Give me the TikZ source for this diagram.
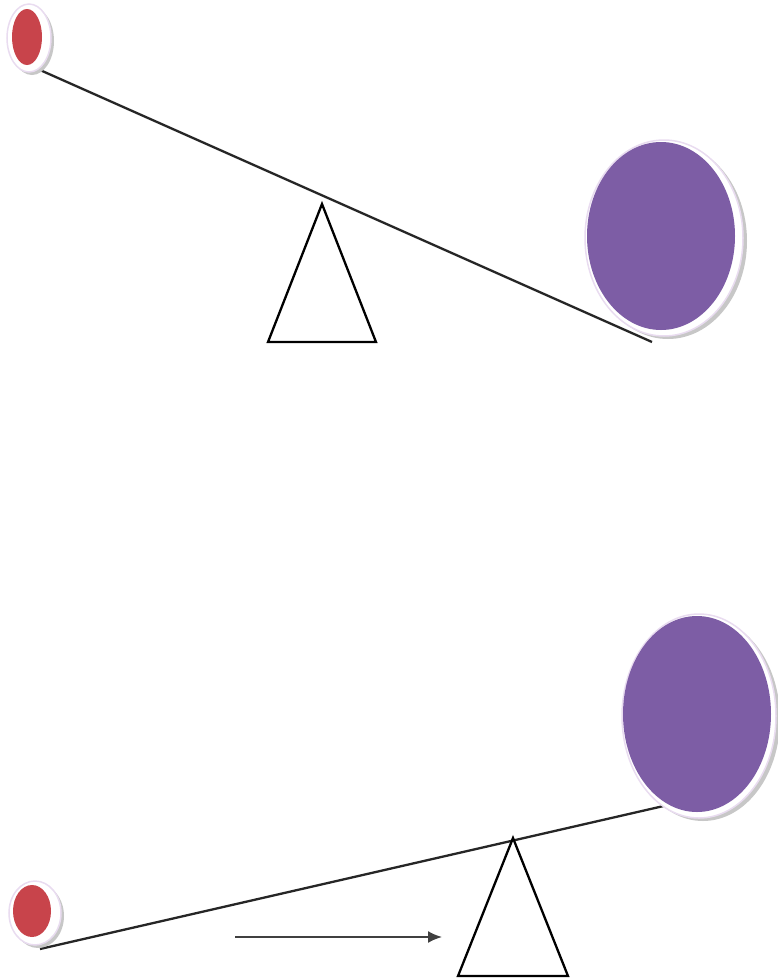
\documentclass[tikz,border=0pt]{standalone}
\usepackage{xcolor}
\usetikzlibrary{arrows.meta}
\definecolor{ball-red}{HTML}{C8444B}
\definecolor{ball-purple}{HTML}{7D5DA5}
\definecolor{halo-edge}{HTML}{E9DCF0}

\begin{document}
\begin{tikzpicture}[x=1pt, y=-1pt,
    beam/.style={line width=2.3pt, black!85},
    pivot/.style={draw, line width=2.3pt, fill=white},
    shade/.style={fill=black!22},
    halo/.style={fill=white, draw=halo-edge, line width=1.5pt}]
  \useasboundingbox (0,0) rectangle (778,978);

  % upper seesaw: heavy ball down
  \coordinate (topL) at (40,70);
  \coordinate (topR) at (652,342);
  \draw[beam] (topL) -- (topR);
  \draw[pivot] (322,204) -- (268,342) -- (376,342) -- cycle;
  \fill[shade] (32,41) ellipse [x radius=22, y radius=34];
  \draw[halo] (29,38) ellipse [x radius=22, y radius=34];
  \fill[ball-red] (27,37) ellipse [x radius=15, y radius=28];
  \fill[shade] (668,241) ellipse [x radius=79, y radius=98];
  \draw[halo] (664,238) ellipse [x radius=79, y radius=98];
  \fill[ball-purple] (661,236) ellipse [x radius=74, y radius=94];

  % lower seesaw: pivot moved right
  \coordinate (botL) at (40,949);
  \coordinate (botR) at (668,805);
  \draw[beam] (botL) -- (botR);
  \draw[pivot] (513,838) -- (458,976) -- (568,976) -- cycle;
  \fill[shade] (38,916) ellipse [x radius=26, y radius=32];
  \draw[halo] (35,913) ellipse [x radius=26, y radius=32];
  \fill[ball-red] (32,911) ellipse [x radius=19, y radius=26];
  \fill[shade] (703,719) ellipse [x radius=77, y radius=102];
  \draw[halo] (699,716) ellipse [x radius=77, y radius=102];
  \fill[ball-purple] (697,714) ellipse [x radius=74, y radius=98];

  \coordinate (arrS) at (235,937);
  \coordinate (arrE) at (442,937);
  \draw[-{Latex[length=14pt, width=12pt]}, line width=1.8pt, black!75] (arrS) -- (arrE);
\end{tikzpicture}
\end{document}
